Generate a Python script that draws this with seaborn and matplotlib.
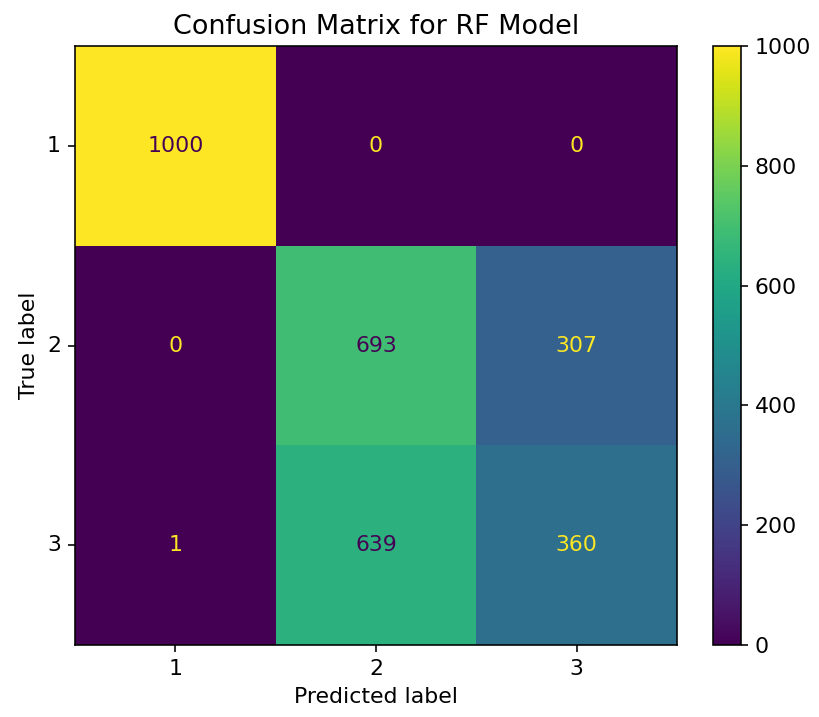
import numpy as np
import pandas as pd
import matplotlib
matplotlib.use("Agg")
import matplotlib.pyplot as plt
import seaborn as sns

labels = ["1", "2", "3"]
row1 = [1000, 0, 0]
row2 = [0, 693, 307]
row3 = [1, 639, 360]

cm = pd.DataFrame([row1, row2, row3], index=labels, columns=labels)

fig = plt.figure(figsize=(819/144, 717/144), dpi=144)
ax = fig.add_axes([0.0916, 0.1004, 0.735, 0.8354])
cax = fig.add_axes([0.870, 0.1004, 0.0345, 0.8354])

cmap = plt.get_cmap("viridis")
vmin, vmax = 0, 1000
sns.heatmap(cm, ax=ax, cbar_ax=cax, cmap=cmap, vmin=vmin, vmax=vmax,
            annot=False, square=False)

fs = 11
thresh = (cm.values.max() + cm.values.min()) / 2.0
for i in range(3):
    for j in range(3):
        v = cm.values[i, j]
        color = cmap(1.0) if v < thresh else cmap(0.0)
        ax.text(j + 0.5, i + 0.5, f"{v}", ha="center", va="center", color=color, fontsize=fs)

for s in ax.spines.values():
    s.set_visible(True)
    s.set_linewidth(0.8)
ax.tick_params(axis="both", length=3.5, width=0.8, labelsize=fs)
ax.set_yticklabels(labels, rotation=0)
ax.set_xticklabels(labels, rotation=0)
ax.set_xlabel("Predicted label", fontsize=fs)
ax.set_ylabel("True label", fontsize=fs)
ax.set_title("Confusion Matrix for RF Model", fontsize=13.5)

cb = ax.collections[0].colorbar
cb.outline.set_visible(True)
cb.outline.set_linewidth(0.8)
cb.set_ticks([0, 200, 400, 600, 800, 1000])
cax.tick_params(length=3.5, width=0.8, labelsize=fs)

fig.savefig("out.png", dpi=144)
